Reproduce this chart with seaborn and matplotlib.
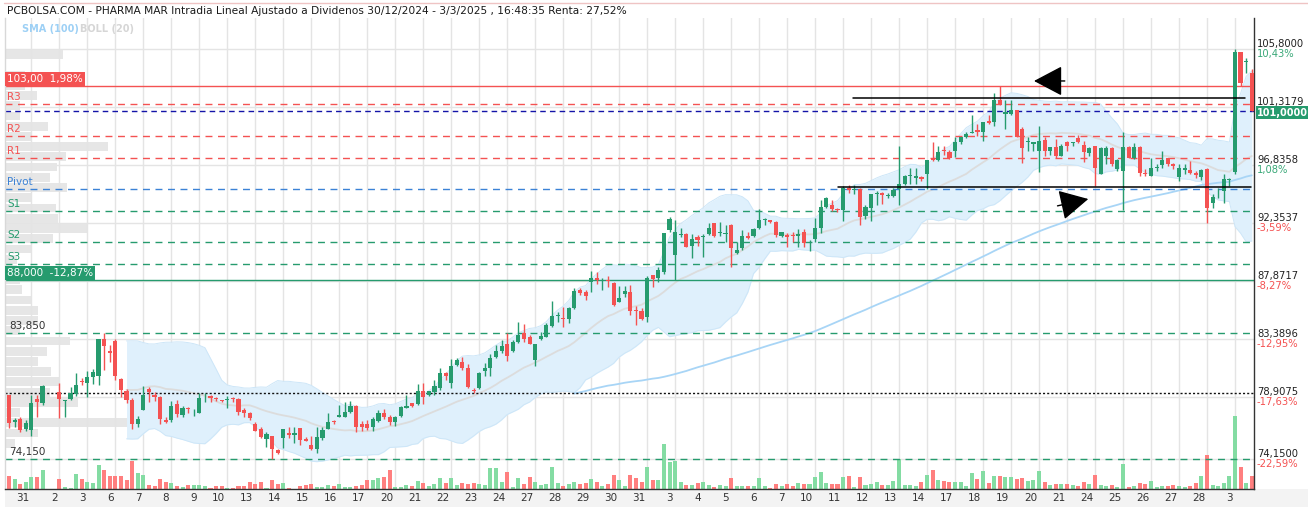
import numpy as np
import pandas as pd
import matplotlib
matplotlib.use("Agg")
import matplotlib.pyplot as plt
import matplotlib.transforms as mtransforms
from matplotlib.patches import Rectangle
from matplotlib.lines import Line2D
import seaborn as sns

# ---- intraday bars, 5 per session (30 Dec and 3 Mar partial, 31 Dec half day) ----
apertura = [
    79.07, 77.00, 77.20, 76.45,                  # 30 dic
    76.37, 78.77, 78.43, None, None,             # 31 dic
    79.28, 78.60, 78.77, 79.15, 80.18,           # 2 ene
    80.03, 80.50, 80.55, 83.38, 82.50,           # 3
    83.25, 80.29, 79.41, 78.69, 76.83,           # 6
    77.92, 79.50, 79.07, 78.95, 77.10,           # 7
    77.10, 78.38, 77.53, 78.05, 77.95,           # 8
    77.70, 78.80, 79.00, 78.85, 78.65,           # 9
    78.70, 78.83, 78.74, 77.92, 77.71,           # 10
    76.83, 76.42, 75.65, 75.90, 74.82,           # 13
    75.78, 76.16, 76.00, 76.50, 75.67,           # 14
    75.20, 74.87, 75.72, 76.45, 77.05,           # 15
    77.40, 77.40, 77.79, 78.22, 76.83,           # 16
    76.83, 76.57, 77.09, 77.66, 77.35,           # 17
    77.01, 77.45, 78.10, 78.43, 78.38,           # 20
    79.41, 79.07, 79.33, 79.64, 80.80,           # 21
    80.03, 81.40, 81.60, 81.14, 79.46,           # 22
    79.64, 80.96, 81.19, 81.99, 82.50,           # 23
    83.02, 82.50, 83.20, 83.89, 83.53,           # 24
    81.78, 83.38, 83.59, 84.41, 85.19,           # 27
    85.06, 84.93, 85.78, 87.20, 87.02,           # 28
    87.79, 88.15, 87.92, 87.90, 87.71,           # 29
    86.29, 86.88, 87.02, 85.60, 85.57,           # 30
    85.08, 88.36, 88.10, 88.61, 91.84,           # 31
    89.90, 91.42, 91.53, 90.60, 91.32,           # 3 feb
    91.27, 91.50, 92.35, 91.60, 91.50,           # 4
    92.22, 90.08, 90.42, 91.37, 91.37,           # 5
    91.97, 92.60, 92.61, 92.48, 91.40,           # 6
    91.45, 91.45, 91.37, 91.71, 90.80,           # 7
    91.11, 91.97, 93.61, 93.77, 93.43,           # 10
    93.38, 95.10, 94.90, 95.00, 92.90,           # 11
    93.54, 94.60, 94.66, 94.50, 94.45,           # 12
    94.97, 95.41, 96.00, 95.88, 95.90,           # 13
    96.14, 97.31, 97.26, 98.01, 97.83,           # 14
    97.91, 98.61, 99.00, 99.34, 99.57,           # 17
    99.39, 100.30, 100.17, 101.86, 100.82,       # 18
    100.82, 101.08, 99.65, 98.61, 98.48,         # 19
    97.96, 98.79, 97.91, 98.27, 97.57,           # 20
    98.66, 98.53, 98.95, 98.40, 97.75,           # 21
    98.35, 96.19, 97.57, 98.17, 96.53,           # 24
    96.40, 98.27, 97.44, 98.27, 96.27,           # 25
    96.01, 96.60, 96.87, 97.39, 96.92,           # 26
    95.93, 96.50, 96.45, 96.27, 95.95,           # 27
    96.53, 93.93, 94.43, 94.84, 95.70,           # 28
    96.35, 105.60, 104.80, 104.00,               # 3 mar
]
maximo = [
    79.10, 77.30, 77.35, 77.15,
    79.07, 79.07, 79.85, None, None,
    79.98, 78.65, 79.67, 80.75, 80.40,
    80.95, 81.06, 83.40, 83.85, 82.90,
    83.38, 80.37, 79.51, 78.82, 77.45,
    79.77, 79.67, 79.33, 79.00, 77.40,
    78.63, 78.70, 78.22, 78.17, 78.00,
    79.20, 79.25, 79.10, 78.95, 78.70,
    79.00, 78.95, 78.82, 78.05, 77.79,
    77.00, 76.63, 76.24, 75.90, 74.87,
    76.42, 76.63, 76.63, 76.50, 75.85,
    75.90, 76.57, 76.63, 77.66, 77.14,
    78.30, 78.56, 78.63, 78.30, 77.09,
    77.14, 77.35, 77.92, 77.97, 77.53,
    77.45, 78.22, 79.07, 78.48, 79.93,
    80.03, 79.41, 80.24, 81.14, 80.88,
    81.83, 81.90, 82.04, 81.48, 79.64,
    80.88, 81.53, 82.25, 82.94, 83.33,
    83.84, 83.33, 84.70, 84.57, 83.71,
    83.02, 83.97, 84.62, 86.37, 85.52,
    85.86, 85.86, 87.33, 87.33, 87.20,
    88.69, 88.56, 88.10, 88.28, 87.79,
    87.50, 87.50, 87.58, 85.96, 85.78,
    88.28, 88.36, 89.00, 91.58, 92.87,
    92.61, 91.97, 91.58, 91.50, 91.45,
    91.50, 92.35, 92.40, 92.48, 92.20,
    92.30, 90.93, 91.84, 91.71, 91.97,
    93.43, 92.74, 92.61, 92.56, 91.71,
    91.58, 91.71, 91.89, 91.89, 91.06,
    92.74, 94.16, 94.40, 94.16, 93.50,
    95.20, 95.30, 95.30, 95.10, 93.80,
    94.60, 94.84, 94.79, 94.70, 95.10,
    98.35, 96.10, 96.66, 96.66, 96.00,
    97.26, 98.61, 98.35, 98.35, 98.01,
    99.00, 99.05, 99.39, 100.69, 100.04,
    100.17, 100.69, 102.46, 102.95, 101.91,
    101.91, 101.08, 99.78, 99.00, 98.61,
    99.91, 99.00, 98.27, 98.87, 98.48,
    98.74, 98.66, 99.21, 98.74, 98.22,
    98.35, 98.22, 98.35, 98.27, 97.31,
    99.44, 98.35, 98.53, 98.35, 96.53,
    97.39, 96.90, 97.96, 97.44, 97.05,
    96.92, 96.92, 97.18, 96.40, 96.55,
    96.66, 94.58, 95.10, 96.14, 95.88,
    105.80, 105.60, 105.10, 104.30,
]
minimo = [
    76.50, 76.60, 76.20, 76.30,
    75.90, 77.40, 78.30, None, None,
    77.30, 77.40, 78.69, 79.00, 79.85,
    78.95, 79.90, 79.85, 81.00, 81.60,
    80.24, 78.95, 78.48, 76.45, 76.63,
    77.90, 78.50, 78.60, 76.80, 76.90,
    77.00, 77.40, 77.40, 77.66, 77.45,
    77.70, 78.50, 78.50, 78.60, 78.50,
    78.05, 78.55, 77.53, 77.35, 77.10,
    76.32, 75.72, 75.03, 74.15, 74.50,
    74.95, 75.72, 75.34, 75.20, 75.52,
    74.82, 74.56, 75.60, 76.45, 76.83,
    77.35, 77.35, 77.66, 76.24, 76.32,
    76.37, 76.32, 77.00, 77.20, 76.75,
    76.68, 77.35, 78.10, 78.17, 78.30,
    78.38, 78.99, 79.07, 79.46, 80.24,
    79.64, 81.35, 81.01, 79.59, 79.25,
    79.54, 80.57, 80.57, 81.90, 82.30,
    81.73, 82.43, 83.12, 83.20, 83.02,
    81.35, 83.33, 83.53, 84.36, 84.75,
    84.31, 84.67, 85.70, 86.81, 86.42,
    87.02, 87.66, 87.20, 87.40, 85.98,
    86.24, 86.68, 85.26, 84.49, 84.88,
    84.75, 87.40, 87.84, 88.43, 91.71,
    87.97, 91.32, 90.50, 89.65, 90.60,
    89.72, 91.45, 91.27, 91.37, 90.90,
    89.00, 89.98, 90.29, 91.11, 91.32,
    91.89, 92.22, 92.35, 91.32, 91.32,
    90.55, 90.93, 90.55, 90.55, 90.24,
    90.93, 91.58, 93.50, 93.30, 93.20,
    92.50, 94.70, 94.60, 92.22, 92.70,
    92.50, 93.80, 93.85, 94.30, 94.40,
    93.80, 95.30, 95.36, 95.36, 95.60,
    94.97, 97.18, 97.18, 97.62, 97.31,
    97.49, 98.48, 98.95, 99.30, 99.13,
    98.74, 100.04, 99.91, 101.47, 99.65,
    100.69, 99.00, 97.05, 97.96, 97.96,
    96.35, 97.57, 97.65, 97.44, 97.52,
    97.96, 98.35, 98.53, 97.13, 97.57,
    95.23, 96.14, 96.92, 96.79, 96.40,
    93.41, 97.44, 97.31, 96.01, 96.01,
    96.01, 96.40, 96.66, 96.79, 96.53,
    95.62, 96.14, 96.14, 95.88, 95.67,
    92.37, 93.54, 94.27, 93.93, 95.23,
    96.20, 103.00, 104.00, 101.00,
]
cierre = [
    76.93, 77.10, 76.40, 76.90,
    78.43, 78.56, 79.77, None, None,
    78.77, 78.65, 79.26, 79.85, 80.10,
    80.50, 80.83, 83.40, 82.89, 82.30,
    80.55, 79.46, 78.69, 76.83, 77.22,
    79.07, 79.30, 78.95, 77.20, 77.00,
    78.20, 77.60, 78.05, 77.97, 77.97,
    78.82, 78.85, 78.82, 78.77, 78.60,
    78.75, 78.75, 77.79, 77.71, 77.27,
    76.32, 75.85, 76.06, 74.87, 74.62,
    76.42, 76.00, 76.16, 75.60, 75.55,
    74.87, 75.85, 76.37, 77.01, 76.98,
    77.53, 77.79, 78.22, 76.63, 76.57,
    76.50, 77.20, 77.66, 77.35, 77.01,
    77.35, 78.17, 78.22, 78.22, 79.38,
    78.90, 79.41, 79.77, 80.80, 80.57,
    81.35, 81.78, 81.19, 79.72, 79.41,
    80.75, 81.14, 81.90, 82.47, 82.86,
    82.12, 83.20, 83.71, 83.38, 83.02,
    83.02, 83.64, 84.49, 85.19, 85.26,
    84.93, 85.78, 87.15, 86.94, 86.73,
    88.15, 87.97, 87.97, 87.89, 86.04,
    86.55, 87.15, 85.60, 85.57, 84.93,
    88.10, 88.05, 88.74, 91.58, 92.66,
    91.66, 91.53, 90.55, 91.11, 91.06,
    91.37, 91.97, 91.37, 91.65, 91.60,
    90.42, 90.29, 91.37, 91.19, 91.89,
    92.61, 92.61, 92.48, 91.45, 91.66,
    91.32, 91.40, 91.53, 90.80, 90.85,
    91.97, 93.64, 94.31, 93.43, 93.38,
    95.10, 94.90, 95.00, 92.87, 93.60,
    94.58, 94.65, 94.53, 94.55, 94.89,
    95.36, 96.01, 96.02, 96.01, 95.75,
    97.26, 97.23, 97.83, 97.91, 97.44,
    98.66, 99.05, 99.26, 99.44, 99.39,
    100.17, 100.09, 101.91, 101.52, 100.95,
    101.08, 99.05, 98.14, 98.69, 98.61,
    98.74, 97.96, 98.27, 97.57, 98.35,
    98.35, 98.66, 98.61, 97.83, 98.14,
    96.61, 98.14, 98.17, 96.92, 97.23,
    98.27, 97.44, 98.27, 96.27, 96.14,
    96.66, 96.70, 97.23, 96.92, 96.79,
    96.61, 96.60, 96.27, 96.09, 96.50,
    93.54, 94.37, 94.45, 95.75, 95.80,
    105.60, 103.20, 104.90, 101.00,
]
volumen = [
    13.3, 10.0, 5.0, 6.7,
    11.7, 11.7, 19.0, None, None,
    10.0, 1.7, 1.0, 15.0, 10.0,
    6.7, 5.7, 24.0, 19.0, 12.7,
    12.7, 12.7, 9.0, 28.3, 15.7,
    14.3, 4.3, 3.0, 10.0, 6.7,
    6.0, 3.0, 1.7, 4.0, 4.0,
    4.0, 3.3, 1.0, 3.0, 3.0,
    1.3, 1.3, 3.0, 3.0, 6.7,
    5.0, 6.7, 1.3, 9.0, 5.0,
    6.0, 1.3, 0.3, 3.0, 3.7,
    5.0, 1.7, 1.7, 3.7, 3.0,
    5.0, 2.3, 2.3, 3.3, 3.7,
    8.7, 8.7, 11.3, 11.7, 19.0,
    2.3, 2.3, 3.7, 2.7, 8.3,
    5.7, 3.0, 5.0, 10.7, 5.7,
    10.7, 4.0, 5.7, 5.0, 5.7,
    4.7, 4.0, 21.0, 21.0, 6.7,
    16.7, 1.7, 10.7, 5.0, 12.0,
    6.7, 4.0, 4.7, 22.0, 5.7,
    2.7, 5.0, 7.3, 5.0, 6.0,
    10.0, 7.3, 2.7, 5.3, 14.0,
    9.0, 2.7, 14.0, 10.7, 6.7,
    22.0, 9.0, 9.0, 45.0, 26.7,
    28.3, 6.7, 4.3, 4.3, 5.7,
    7.3, 4.0, 2.3, 4.0, 3.3,
    11.0, 2.7, 2.7, 2.7, 2.7,
    11.0, 2.7, 1.0, 5.0, 2.7,
    5.0, 2.7, 5.7, 5.0, 5.0,
    11.7, 16.7, 5.7, 5.0, 5.0,
    11.7, 12.7, 1.7, 12.0, 4.4,
    5.0, 6.7, 4.4, 4.0, 7.7,
    30.0, 4.4, 4.4, 3.4, 6.7,
    14.1, 19.2, 9.1, 8.4, 6.7,
    6.7, 6.7, 3.4, 15.8, 10.1,
    17.8, 5.7, 13.5, 13.5, 11.8,
    11.8, 10.1, 11.1, 7.7, 9.1,
    17.8, 6.7, 4.4, 5.0, 5.0,
    5.0, 4.4, 3.4, 6.7, 5.0,
    14.1, 4.4, 3.4, 4.4, 2.4,
    25.2, 2.4, 3.4, 5.7, 5.0,
    7.7, 2.4, 3.4, 3.4, 4.4,
    3.4, 2.0, 2.7, 6.0, 13.0,
    34.0, 4.5, 3.4, 6.0, 13.0,
    73.0, 21.6, 6.0, 13.0,
]

dias = ["31", "2", "3", "6", "7", "8", "9", "10", "13", "14", "15", "16", "17",
        "20", "21", "22", "23", "24", "27", "28", "29", "30", "31",
        "3", "4", "5", "6", "7", "10", "11", "12", "13", "14", "17", "18",
        "19", "20", "21", "24", "25", "26", "27", "28", "3"]

# volume-at-price profile (top bin 105.80 down to 74.15, 40 bins)
perfil_vol = [58, 0, 20, 20, 32, 15, 15, 43, 26, 103, 61, 52, 45, 62, 26, 51,
              53, 82, 48, 27, 12, 12, 15, 17, 27, 33, 33, 15, 65, 42, 33, 46,
              54, 45, 73, 15, 129, 33, 10, 0]

# pivot levels
pivot_nombres = ["R3", "R2", "R1", "Pivot", "S1", "S2", "S3"]
pivot_valores = [101.58, 99.14, 97.40, 95.01, 93.31, 90.91, 89.21]

precio_actual = 101.00
alerta_alta, alerta_alta_txt = 103.00, "103,00  1,98%"
alerta_baja, alerta_baja_txt = 88.00, "88,000  -12,87%"
max_periodo, max_txt = 83.85, "83,850"
min_periodo, min_txt = 74.15, "74,150"
precio_ref = 79.20

# right axis
ticks_der = [105.8, 101.3179, 96.8358, 92.3537, 87.8717, 83.3896, 78.9075, 74.15]
ticks_txt = ["105,8000", "101,3179", "96,8358", "92,3537", "87,8717", "83,3896",
             "78,9075", "74,1500"]
ticks_pct = ["10,43%", "", "1,08%", "-3,59%", "-8,27%", "-12,95%", "-17,63%",
             "-22,59%"]

# drawn trend lines (start bar, end bar, price)
tendencias = [(150.8, 220.8, 102.05), (148.1, 221.9, 95.13)]

titulo = ("PCBOLSA.COM - PHARMA MAR Intradia Lineal Ajustado a Dividenos "
          "30/12/2024 - 3/3/2025 , 16:48:35 Renta: 27,52%")

VERDE = "#269b6e"
ROJO = "#f45252"
VERDE_VOL = "#84dca3"
ROJO_VOL = "#ff7f7f"
GRIS_GRID = "#e4e4e4"

sns.set_theme(style="white")
plt.rcParams["font.family"] = ["DejaVu Sans"]

W, H = 1308, 512
fig = plt.figure(figsize=(W / 100, H / 100), dpi=100)
ax_w, ax_h = 1249, 471
ax = fig.add_axes([5 / W, 23 / H, ax_w / W, ax_h / H])
ax.set_xlim(-0.71, 222.4)
ax.set_ylim(71.80, 108.23)
ax.patch.set_alpha(0)

df = pd.DataFrame({"open": apertura, "high": maximo, "low": minimo,
                   "close": cierre, "vol": volumen}, dtype=float)
df["pos"] = np.arange(len(df))
ok = df.dropna().copy()
ok["sma20"] = ok["close"].rolling(20).mean()
desv = ok["close"].rolling(20).std(ddof=0)
ok["up"] = ok["sma20"] + 2 * desv
ok["dn"] = ok["sma20"] - 2 * desv
ok["sma100"] = ok["close"].rolling(100).mean()

t_xdata = mtransforms.blended_transform_factory(ax.transData, ax.transAxes)
t_ydata = mtransforms.blended_transform_factory(ax.transAxes, ax.transData)

# grid
inicio_dia = [4 + 5 * k for k in range(len(dias))]
ax.hlines(ticks_der, -1, 224, color=GRIS_GRID, lw=1, zorder=0)
ax.vlines(inicio_dia, 71, 109, color=GRIS_GRID, lw=1, zorder=0.6)

# volume profile at left
paso = (ticks_der[0] - ticks_der[-1]) / len(perfil_vol)
centros = ticks_der[0] - paso * (np.arange(len(perfil_vol)) + 0.5)
ax.barh(centros, np.array(perfil_vol) / ax_w, height=paso * 0.86, left=0,
        color="#e6e6e6", lw=0, transform=t_ydata, zorder=0.5)

# bollinger band + sma
band = ok.dropna(subset=["up"])
ax.fill_between(band["pos"], band["dn"], band["up"], color="#dff0fc", lw=0, zorder=1)
ax.plot(band["pos"], band["up"], color="#cde6f8", lw=0.7, zorder=1.1)
ax.plot(band["pos"], band["dn"], color="#cde6f8", lw=0.7, zorder=1.1)
sns.lineplot(data=band, x="pos", y="sma20", color="#dcdcdc", lw=1.3, ax=ax, zorder=1.5)
s100 = ok.dropna(subset=["sma100"])
sns.lineplot(data=s100, x="pos", y="sma100", color="#a8d5f6", lw=1.3, ax=ax, zorder=1.6)

# volume bars
sube = (ok["close"] >= ok["open"]).to_numpy()
ax.bar(ok["pos"], ok["vol"] / ax_h, bottom=0, width=0.72,
       color=np.where(sube, VERDE_VOL, ROJO_VOL), lw=0, transform=t_xdata, zorder=2)

# levels
for nom, val in zip(pivot_nombres, pivot_valores):
    c = ROJO if nom.startswith("R") else ("#3b82d6" if nom == "Pivot" else VERDE)
    ax.axhline(val, color=c, lw=1, ls=(0, (5, 4)), zorder=2.5)
    ax.text(2 / ax_w, val + 0.12, nom, transform=t_ydata, color=c, fontsize=7.5,
            va="bottom", ha="left", zorder=5)
ax.axhline(precio_actual, color="#1414a8", lw=1, ls=(0, (4, 3)), zorder=2.5)
ax.axhline(alerta_alta, color=ROJO, lw=1, zorder=2.5)
ax.axhline(alerta_baja, color=VERDE, lw=1, zorder=2.5)
ax.axhline(max_periodo, color=VERDE, lw=1, ls=(0, (5, 4)), zorder=2.5)
ax.axhline(min_periodo, color=VERDE, lw=1, ls=(0, (5, 4)), zorder=2.5)
ax.axhline(precio_ref, color="#111111", lw=1, ls=(0, (1.5, 1.5)), zorder=2.5)

ax.text(2 / ax_w, alerta_alta + 0.1, alerta_alta_txt, transform=t_ydata, color="white",
        fontsize=7.5, va="bottom", ha="left", zorder=6,
        bbox=dict(boxstyle="square,pad=0.2", fc=ROJO, ec="none"))
ax.text(2 / ax_w, alerta_baja + 0.1, alerta_baja_txt, transform=t_ydata, color="white",
        fontsize=7.5, va="bottom", ha="left", zorder=6,
        bbox=dict(boxstyle="square,pad=0.2", fc=VERDE, ec="none"))
ax.text(4 / ax_w, max_periodo + 0.15, max_txt, transform=t_ydata, color="#333333",
        fontsize=7.5, va="bottom", ha="left", zorder=6)
ax.text(4 / ax_w, min_periodo + 0.15, min_txt, transform=t_ydata, color="#333333",
        fontsize=7.5, va="bottom", ha="left", zorder=6)

# trend lines and arrows
for x0, x1, y in tendencias:
    ax.plot([x0, x1], [y, y], color="black", lw=1.1, zorder=4)
ax.annotate("", xy=(183.1, 103.36), xytext=(188.6, 103.36),
            arrowprops=dict(arrowstyle="-|>,head_length=1.8,head_width=0.95",
                            mutation_scale=10, color="black", lw=1,
                            shrinkA=0, shrinkB=0), zorder=6)
ax.annotate("", xy=(192.8, 94.23), xytext=(187.3, 93.70),
            arrowprops=dict(arrowstyle="-|>,head_length=1.8,head_width=0.95",
                            mutation_scale=10, color="black", lw=1,
                            shrinkA=0, shrinkB=0), zorder=6)

# candles
col = np.where(sube, VERDE, ROJO)
ax.vlines(ok["pos"], ok["low"], ok["high"], colors=col, lw=1.0, zorder=3)
cuerpo = (ok["close"] - ok["open"]).abs().clip(lower=0.07)
ax.bar(ok["pos"], cuerpo, bottom=ok[["open", "close"]].min(axis=1), width=0.74,
       color=col, lw=0, zorder=3.1)

# right axis labels
for val, txt, pct in zip(ticks_der, ticks_txt, ticks_pct):
    ax.text(1 + 3 / ax_w, val, txt, transform=t_ydata, fontsize=7.2, color="#222222",
            va="bottom", ha="left", clip_on=False)
    if pct:
        ax.text(1 + 3 / ax_w, val, pct, transform=t_ydata, fontsize=7.2,
                color=ROJO if pct.startswith("-") else "#3aa878",
                va="top", ha="left", clip_on=False)
ax.text(1 + 3 / ax_w, precio_actual - 0.1, "101,0000", transform=t_ydata, fontsize=7,
        color="white", fontweight="bold", va="center", ha="left", zorder=7,
        bbox=dict(boxstyle="square,pad=0.15", fc=VERDE, ec="none"))

# x day labels
for pos, d in zip(inicio_dia, dias):
    ax.text(pos - 0.35, -9 / ax_h, d, transform=t_xdata, fontsize=7.5, color="#333333",
            ha="right", va="center", clip_on=False)

# legend text
ax.text(17 / ax_w, 1 - 11 / ax_h, "SMA (100)", transform=ax.transAxes, fontsize=7,
        color="#9dd0f5", fontweight="bold", va="center", ha="left")
ax.text(75 / ax_w, 1 - 11 / ax_h, "BOLL (20)", transform=ax.transAxes, fontsize=7,
        color="#d6d6d6", fontweight="bold", va="center", ha="left")

ax.set_xticks([])
ax.set_yticks([])
ax.set_xlabel("")
ax.set_ylabel("")
ax.spines["top"].set_visible(False)
ax.spines["left"].set_color("#d8d8d8")
ax.spines["right"].set_color("#333333")
ax.spines["bottom"].set_color("#333333")
for side in ["left", "right", "bottom"]:
    ax.spines[side].set_linewidth(1)

# header / footer strips
fig.patches.append(Rectangle((5 / W, 5 / H), 1 - 5 / W, 18 / H, transform=fig.transFigure,
                             fc="#f3f3f3", ec="none", zorder=-1))
fig.lines.append(Line2D([4 / W, 1], [1 - 3 / H, 1 - 3 / H], transform=fig.transFigure,
                        color="#efc4c4", lw=1))
fig.text(7 / W, 1 - 11 / H, titulo, fontsize=7.7, color="#1a1a1a", va="center", ha="left")

fig.savefig("out.png", dpi=100)
